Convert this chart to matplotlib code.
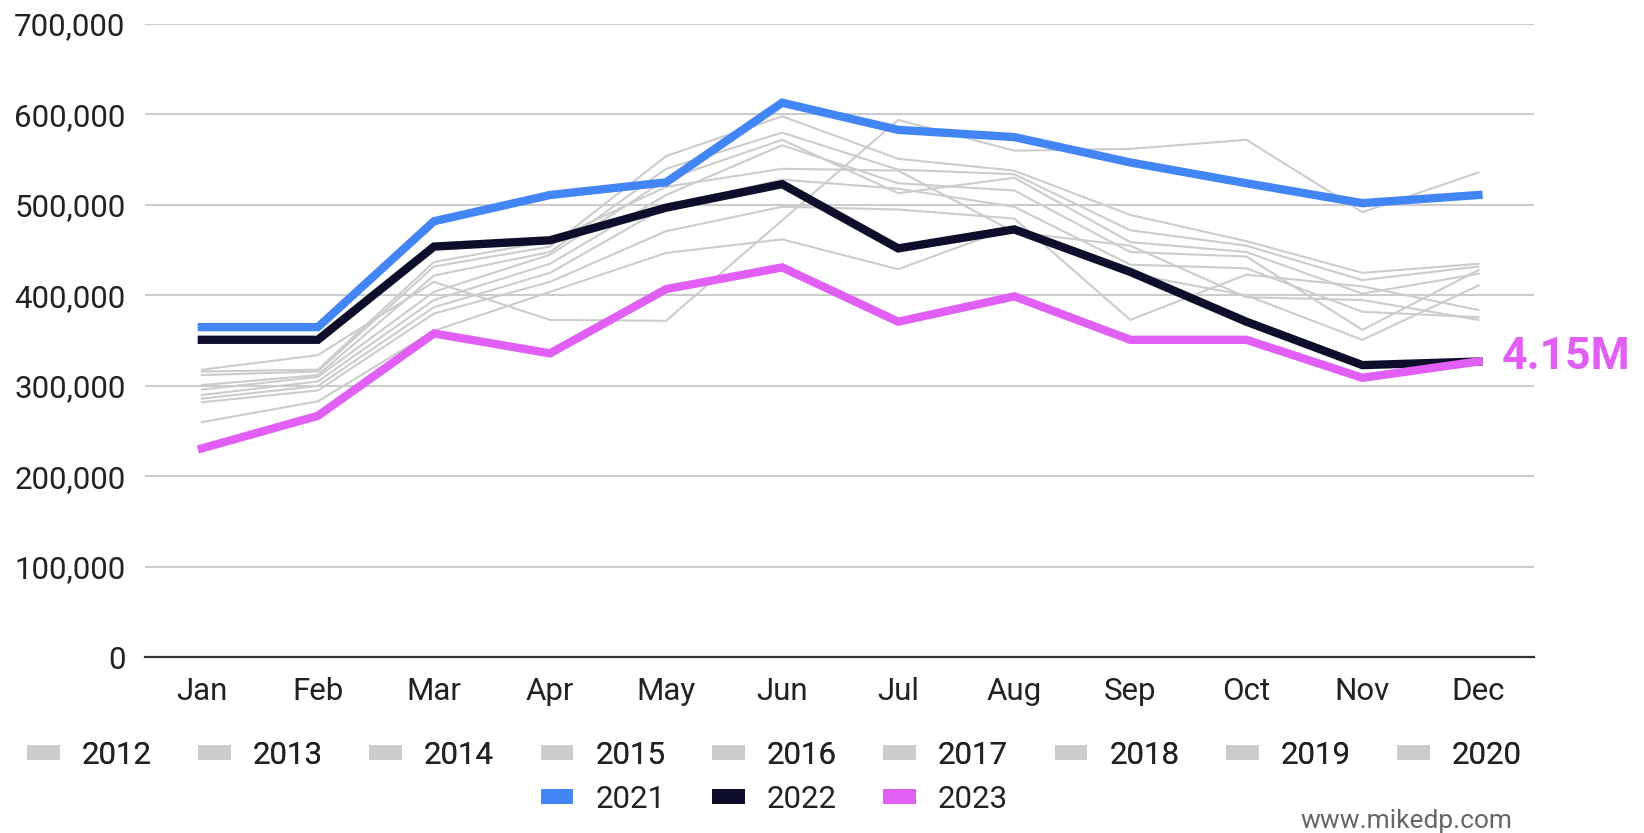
import matplotlib
matplotlib.use("Agg")
import matplotlib.pyplot as plt
from matplotlib.patches import Patch
from matplotlib.ticker import FuncFormatter
import numpy as np

plt.rcParams['font.family'] = ['Roboto', 'DejaVu Sans']

months = ["Jan", "Feb", "Mar", "Apr", "May", "Jun", "Jul", "Aug", "Sep", "Oct", "Nov", "Dec"]

# background years (thousands)
y2012 = [260, 283, 361, 404, 447, 462, 429, 476, 424, 400, 351, 411]
y2013 = [318, 334, 415, 373, 372, 483, 594, 560, 562, 572, 492, 536]
y2014 = [312, 316, 432, 454, 554, 598, 551, 538, 489, 460, 425, 435]
y2015 = [301, 312, 422, 448, 540, 580, 539, 534, 472, 455, 417, 432]
y2016 = [296, 310, 404, 445, 528, 572, 513, 530, 459, 448, 402, 424]
y2017 = [290, 305, 395, 435, 511, 566, 524, 516, 448, 443, 362, 428]
y2018 = [286, 300, 387, 425, 498, 528, 518, 498, 434, 430, 382, 376]
y2019 = [282, 295, 380, 415, 471, 498, 495, 485, 373, 423, 410, 384]
y2020 = [316, 318, 437, 460, 520, 540, 538, 470, 455, 398, 395, 373]

# highlighted years (thousands)
y2021 = [365, 365, 482, 511, 525, 613, 583, 575, 547, 524, 502, 511]
y2022 = [351, 351, 454, 461, 497, 523, 452, 473, 426, 371, 323, 327]
y2023 = [231, 267, 358, 336, 407, 431, 371, 399, 351, 351, 309, 327]

gray_years = ["2012", "2013", "2014", "2015", "2016", "2017", "2018", "2019", "2020"]
gray_series = [y2012, y2013, y2014, y2015, y2016, y2017, y2018, y2019, y2020]
hi_years = ["2021", "2022", "2023"]
hi_series = [y2021, y2022, y2023]
hi_colors = ["#4285F4", "#0E0E2C", "#E15FF5"]
gray_color = "#CCCCCC"
total_label = "4.15M"

fig = plt.figure(figsize=(16.44, 8.33), dpi=100)
ax = fig.add_axes([0.0882, 0.2108, 0.845, 0.7604])

x = np.arange(len(months))
for s in gray_series:
    ax.plot(x, np.array(s) * 1000, color=gray_color, lw=1.5, solid_joinstyle='miter', zorder=2)
for s, c in zip(hi_series, hi_colors):
    ax.plot(x, np.array(s) * 1000, color=c, lw=6, solid_joinstyle='miter', zorder=3)

ax.set_xlim(-0.49, 11.48)
ax.set_ylim(0, 700000)
ax.set_yticks(np.arange(0, 700001, 100000))
ax.yaxis.set_major_formatter(FuncFormatter(lambda v, p: f"{int(v):,}"))
ax.set_xticks(x)
ax.set_xticklabels(months)
ax.tick_params(axis='both', length=0, labelsize=22.5, colors='#222222')
ax.tick_params(axis='y', pad=14)
ax.tick_params(axis='x', pad=14)
ax.grid(axis='y', color='#CCCCCC', lw=1.5)
ax.set_axisbelow(True)
for sp in ['top', 'right', 'left']:
    ax.spines[sp].set_visible(False)
ax.spines['bottom'].set_color('#333333')
ax.spines['bottom'].set_linewidth(1.6)
ax.spines['bottom'].set_zorder(4)

ax.annotate(total_label, xy=(x[-1], y2023[-1] * 1000), xytext=(17, 3),
            textcoords='offset points', va='center', ha='left',
            fontsize=32, fontweight='bold', color=hi_colors[2], annotation_clip=False)

common = dict(frameon=False, fontsize=22.5, handlelength=1.05, handleheight=0.35,
              handletextpad=0.7, columnspacing=1.49, borderpad=0, labelcolor='#222222')
h1 = [Patch(facecolor=gray_color, edgecolor='none') for _ in gray_years]
leg1 = fig.legend(h1, gray_years, ncol=9, loc='center',
                  bbox_to_anchor=(0.471, 0.0936), **common)
h2 = [Patch(facecolor=c, edgecolor='none') for c in hi_colors]
leg2 = fig.legend(h2, hi_years, ncol=3, loc='center',
                  bbox_to_anchor=(0.471, 0.0408), **common)
fig.add_artist(leg1)

fig.text(0.920, 0.015, "www.mikedp.com", ha='right', va='center', fontsize=19, color='#666666')

fig.savefig("out.png", dpi=100)
